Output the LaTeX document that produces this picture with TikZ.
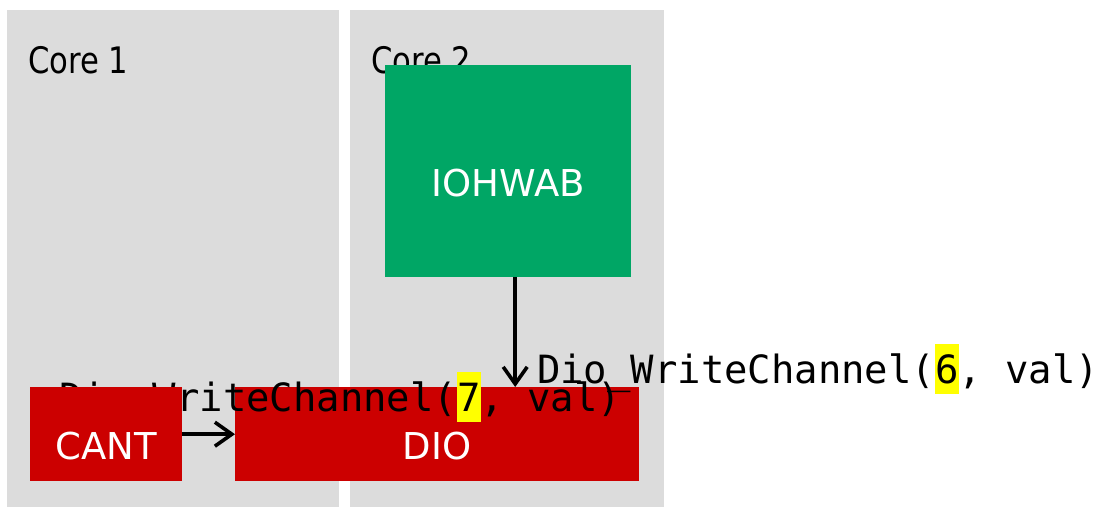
\documentclass[tikz,border=0pt]{standalone}
\usepackage{fontspec}
\setmainfont{DejaVu Sans}
\setmonofont{DejaVu Sans Mono}
\newfontfamily\corefont[FakeStretch=0.84]{DejaVu Sans}
\usepackage{xcolor}
\usetikzlibrary{arrows.meta}
\definecolor{core_gray}{HTML}{DCDCDC}
\definecolor{swc_red}{HTML}{CC0000}
\definecolor{swc_green}{HTML}{00A665}
\definecolor{mark_yellow}{HTML}{FFFF00}
\newcommand{\hlnum}[1]{{\setlength{\fboxsep}{0pt}\colorbox{mark_yellow}{\rule[-10.5pt]{0pt}{49.5pt}#1}}}

\begin{document}
\begin{tikzpicture}[
                x=1pt,
                y=-1pt,
                panel/.style={fill=core_gray, inner sep=0pt, anchor=north west},
                swc/.style={inner sep=0pt, anchor=north west, text=white,
                    font=\fontsize{37}{44}\selectfont, text height=50pt, text depth=0pt},
                corelabel/.style={anchor=base west, inner sep=0pt,
                    font=\corefont\fontsize{36.5}{44}\selectfont},
                apicall/.style={anchor=base west, inner sep=0pt,
                    font=\ttfamily\fontsize{38.9}{47}\selectfont},
                flow/.style={line width=3.6pt, -{Straight Barb[length=17pt,width=24pt]}}
            ]
            \useasboundingbox (0,0) rectangle (1102,507);

            % Core panels
            \node[panel, minimum width=332pt, minimum height=497pt] (core1) at (7,10) {};
            \node[panel, minimum width=314pt, minimum height=497pt] (core2) at (350,10) {};
            \node[corelabel] (core1lbl) at (28,73) {Core 1};
            \node[corelabel] (core2lbl) at (371,73) {Core 2};

            % Software components
            \node[swc, fill=swc_green, minimum width=246pt, minimum height=212pt] (iohwab) at (385,65) {IOHWAB};
            \node[swc, fill=swc_red, minimum width=404pt, minimum height=94pt] (dio) at (235,387) {DIO};

            % Calls into DIO
            \node[apicall] (call7) at (58.9,411) {Dio\_WriteChannel(\hlnum{7}, val)};
            \node[apicall] (call6) at (536.9,383) {Dio\_WriteChannel(\hlnum{6}, val)};

            \node[swc, fill=swc_red, minimum width=152pt, minimum height=94pt] (cant) at (30,387) {CANT};

            % Arrows
            \draw[flow] ([xshift=7pt]iohwab.south) -- ([xshift=7pt]iohwab.south |- dio.north);
            \draw[flow] (cant.east) -- (dio.west);
        \end{tikzpicture}
\end{document}
